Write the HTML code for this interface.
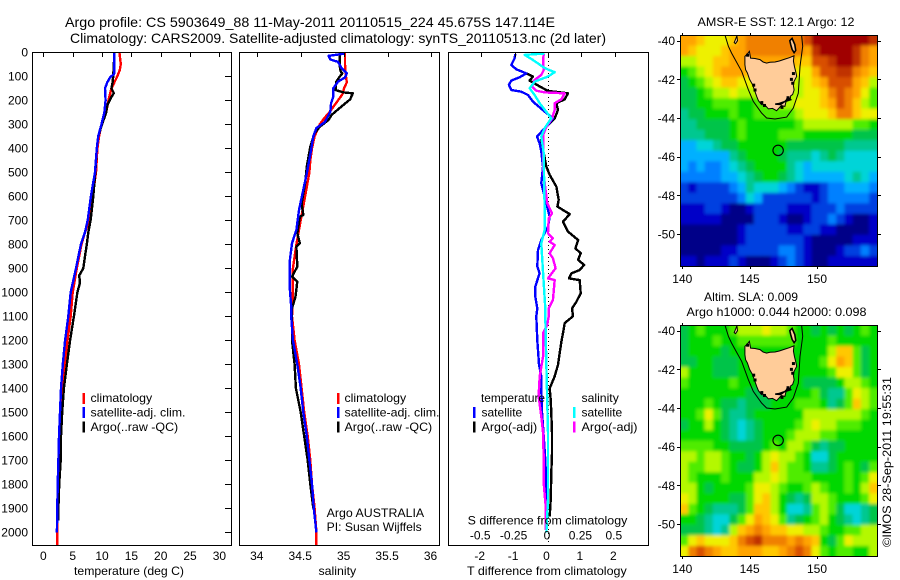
<!DOCTYPE html>
<html>
<head>
<meta charset="utf-8">
<title>Argo profile</title>
<style>
html,body{margin:0;padding:0;background:#fff;}
svg{display:block;}
text{font-family:"Liberation Sans",sans-serif;font-size:12px;fill:#000;}
.title{font-size:14px;}
</style>
</head>
<body>
<svg id="chart" xmlns="http://www.w3.org/2000/svg" width="900" height="580" viewBox="0 0 900 580">
  <defs>
    <filter id="soft" x="-10%" y="-10%" width="120%" height="120%"><feGaussianBlur stdDeviation="1.7"/></filter>
    <clipPath id="clip-p1"><rect x="33" y="53" width="198" height="492"/></clipPath>
    <clipPath id="clip-p2"><rect x="240" y="53" width="199" height="492"/></clipPath>
    <clipPath id="clip-p3"><rect x="449" y="53" width="199" height="492"/></clipPath>
    <clipPath id="clip-m1"><rect x="681" y="36" width="196" height="230"/></clipPath>
    <clipPath id="clip-m2"><rect x="681" y="326" width="196" height="230"/></clipPath>
  </defs>
  <text class="title" x="65" y="27" textLength="490" lengthAdjust="spacingAndGlyphs">Argo profile: CS 5903649_88 11-May-2011 20110515_224 45.675S 147.114E</text>
  <text class="title" x="70" y="43" textLength="536" lengthAdjust="spacingAndGlyphs">Climatology: CARS2009. Satellite-adjusted climatology: synTS_20110513.nc (2d later)</text>

  <g id="p1"></g>
  <g id="p2"></g>
  <g id="p3"></g>
  <g id="m1"></g>
  <g id="m2"></g>

  <text x="74" y="575" textLength="110" lengthAdjust="spacingAndGlyphs">temperature (deg C)</text>
  <text x="318.5" y="575" textLength="37.7" lengthAdjust="spacingAndGlyphs">salinity</text>
  <text x="467" y="575" textLength="159.7" lengthAdjust="spacingAndGlyphs">T difference from climatology</text>
  <text x="467.7" y="524.5" textLength="159.6" lengthAdjust="spacingAndGlyphs">S difference from climatology</text>

  <g>
    <rect x="82.5" y="393" width="2.5" height="11" fill="#f00"/>
    <rect x="82.5" y="407" width="2.5" height="11" fill="#00f"/>
    <rect x="82.5" y="421.5" width="2.5" height="11" fill="#000"/>
    <text x="90.5" y="402" textLength="61.7" lengthAdjust="spacingAndGlyphs">climatology</text>
    <text x="90.5" y="416.5" textLength="95" lengthAdjust="spacingAndGlyphs">satellite-adj. clim.</text>
    <text x="90.5" y="431" textLength="87.7" lengthAdjust="spacingAndGlyphs">Argo(..raw -QC)</text>
  </g>
  <g>
    <rect x="337" y="393" width="2.5" height="11" fill="#f00"/>
    <rect x="337" y="407" width="2.5" height="11" fill="#00f"/>
    <rect x="337" y="421.5" width="2.5" height="11" fill="#000"/>
    <text x="344.5" y="402" textLength="61.7" lengthAdjust="spacingAndGlyphs">climatology</text>
    <text x="344.5" y="416.5" textLength="95" lengthAdjust="spacingAndGlyphs">satellite-adj. clim.</text>
    <text x="344.5" y="431" textLength="87.7" lengthAdjust="spacingAndGlyphs">Argo(..raw -QC)</text>
  </g>
  <text x="326.7" y="517" textLength="97.5" lengthAdjust="spacingAndGlyphs">Argo AUSTRALIA</text>
  <text x="326.7" y="531" textLength="95" lengthAdjust="spacingAndGlyphs">PI: Susan Wijffels</text>
  <g>
    <text x="481" y="402" textLength="64" lengthAdjust="spacingAndGlyphs">temperature</text>
    <text x="581.5" y="402" textLength="37.3" lengthAdjust="spacingAndGlyphs">salinity</text>
    <rect x="473" y="407" width="2.5" height="11" fill="#00f"/>
    <rect x="473" y="421.5" width="2.5" height="11" fill="#000"/>
    <rect x="573" y="407" width="2.5" height="11" fill="#0ff"/>
    <rect x="573" y="421.5" width="2.5" height="11" fill="#f0f"/>
    <text x="481.5" y="416.5" textLength="40.7" lengthAdjust="spacingAndGlyphs">satellite</text>
    <text x="481.5" y="431" textLength="55.7" lengthAdjust="spacingAndGlyphs">Argo(-adj)</text>
    <text x="581.5" y="416.5" textLength="40.7" lengthAdjust="spacingAndGlyphs">satellite</text>
    <text x="581.5" y="431" textLength="56" lengthAdjust="spacingAndGlyphs">Argo(-adj)</text>
  </g>

  <text x="697.5" y="26" textLength="157" lengthAdjust="spacingAndGlyphs">AMSR-E SST: 12.1  Argo: 12</text>
  <text x="704" y="301" textLength="94" lengthAdjust="spacingAndGlyphs">Altim. SLA: 0.009</text>
  <text x="686.5" y="316" textLength="180" lengthAdjust="spacingAndGlyphs">Argo h1000: 0.044 h2000: 0.098</text>
  <text transform="translate(891,547) rotate(-90)" textLength="170" lengthAdjust="spacingAndGlyphs">©IMOS 28-Sep-2011 19:55:31</text>
</svg>
<script>
// ---- tick labels
const depthTicks = [0,100,200,300,400,500,600,700,800,900,1000,1100,1200,1300,1400,1500,1600,1700,1800,1900,2000];
const tempTicks = [0,5,10,15,20,25,30];
const salTicks = [34,34.5,35,35.5,36];
const tDiffTicks = [-2,-1,0,1,2];
const sDiffTicks = [-0.5,-0.25,0,0.25,0.5];
const lonTicks = [140,145,150];
const latTicks = [-40,-42,-44,-46,-48,-50];

// ---- temperature profiles
const climTempDepth = [0,50,75,100,125,150,200,250,300,350,400,500,600,700,750,800,900,1000,1100,1200,1300,1400,1500,1600,1700,1800,1900,2000,2055];
const climTempValue = [12.95,13.2,13,12.6,12.1,11.6,11.1,10.7,9.9,9.5,9.2,8.97,8.4,7.8,7.1,6.5,5.7,5,4.65,4.1,3.7,3.3,3,2.7,2.65,2.55,2.45,2.37,2.37];
const satTempDepth = [0,50,90,105,125,150,200,250,300,350,400,500,600,700,750,800,900,1000,1100,1200,1300,1400,1500,1600,1700,1800,1900,2000];
const satTempValue = [12.1,12.1,12.05,11.35,10.9,10.5,10.6,10.4,9.9,9.35,9.1,8.8,8.1,7.55,7.1,6.4,5.55,4.65,4.25,3.7,3.3,3,2.83,2.66,2.55,2.44,2.37,2.3];
const argoTempDepth = [5,100,125,150,170,190,220,250,300,350,400,500,600,700,750,800,850,900,930,960,1000,1100,1200,1300,1400,1500,1600,1700,1800,1900,1950];
const argoTempValue = [12.1,11.9,11.8,11.6,12,11.5,10.9,10.7,10,9.35,9.1,8.85,8.5,8.05,7.65,7.4,7.1,6.8,6.1,6.24,5.8,5.2,4.55,4,3.5,3.2,3,2.95,2.7,2.55,2.5];

// ---- salinity profiles
const climSalDepth = [0,50,100,125,150,175,200,225,250,275,300,350,400,450,500,600,700,800,900,1000,1100,1200,1300,1400,1500,1600,1700,1800,1900,2000,2055];
const climSalValue = [35.01,35.01,35.02,35.03,35,34.98,34.93,34.88,34.83,34.77,34.72,34.66,34.63,34.61,34.6,34.55,34.5,34.45,34.41,34.41,34.4,34.43,34.48,34.51,34.54,34.58,34.61,34.63,34.66,34.68,34.68];
const satSalDepth = [5,15,30,40,66,88,105,122,150,185,212,247,290,316,350,407,504,573,657,740,796,865,990,1060,1100,1200,1300,1400,1500,1600,1700,1800,1900,1950,2000];
const satSalValue = [35.01,34.82,34.84,34.93,34.97,35.03,35.01,34.93,34.875,34.875,34.85,34.84,34.78,34.68,34.645,34.62,34.57,34.53,34.48,34.45,34.4,34.375,34.375,34.39,34.39,34.41,34.46,34.5,34.53,34.57,34.6,34.63,34.65,34.665,34.68];
const argoSalDepth = [5,60,80,88,101,122,157,167,171,196,226,261,282,310,337,393,476,546,629,678,685,754,796,810,893,935,955,1018,1067,1100,1200,1300,1400,1500,1600,1700,1800,1900];
const argoSalValue = [34.95,34.95,34.96,34.98,34.95,34.91,34.9,34.99,35.1,35.07,34.97,34.855,34.82,34.72,34.66,34.61,34.57,34.55,34.51,34.53,34.49,34.46,34.49,34.45,34.46,34.4,34.46,34.44,34.4,34.4,34.4,34.43,34.445,34.5,34.54,34.58,34.61,34.645];

// ---- temperature differences (deg C)
const satDiffTDepth = [7,25,53,71,88,104,118,136,157,164,178,206,247,275,303,324,351,379,414,476,546,601,685,726,782,824,893,921,976,1018,1067,1100,1200,1300,1350,1400,1500,1600,1700,1800,1900,1990];
const satDiffTValue = [-0.98,-1,-1.1,-0.95,-0.65,-0.85,-1.1,-1.17,-1.1,-0.8,-0.6,-0.45,-0.1,0.15,0,-0.15,-0.33,-0.25,-0.2,-0.15,-0.2,-0.1,0.05,0,-0.2,-0.3,-0.32,-0.25,-0.38,-0.38,-0.32,-0.35,-0.32,-0.27,-0.2,-0.2,-0.18,-0.13,-0.08,-0.05,-0.05,-0.05];
const argoDiffTDepth = [88,101,118,142,161,171,196,212,240,275,310,331,366,476,511,560,615,643,674,706,747,782,817,837,865,886,907,921,942,949,1004,1039,1067,1100,1128,1170,1205,1253,1302,1350,1400,1448,1503,1587,1670,1753,1865,1934];
const argoDiffTValue = [-0.65,-0.45,-0.55,-0.25,0,0.6,0.5,0.25,0.3,0.2,-0.05,-0.15,-0.2,-0.05,0.05,0.25,0.32,0.28,0.65,0.45,0.6,0.9,0.82,0.98,0.9,1.08,0.95,0.7,0.63,0.95,0.98,0.85,0.72,0.75,0.5,0.45,0.4,0.35,0.3,0.2,0.05,0.08,0.1,0.12,0.12,0.1,0.08,0.05];

// ---- salinity differences
const satDiffSDepth = [5,11,32,66,83,101,122,150,178,212,275,316,351,420,504,671,740,796,921,1067,1100,1309,1587,1865,2000];
const satDiffSValue = [-0.025,-0.175,-0.112,-0.025,0.05,0,-0.1,-0.137,-0.1,-0.062,0.025,-0.025,-0.05,-0.032,-0.03,-0.025,-0.025,-0.05,-0.037,-0.02,-0.02,-0.012,0,0,-0.012];
const argoDiffSDepth = [7,32,74,94,115,143,160,167,171,196,212,240,275,310,344,476,546,629,671,692,754,775,789,803,837,858,900,942,949,1032,1067,1100,1135,1170,1267,1350,1433,1517,1587,1698,1795,1892,1990];
const argoDiffSValue = [-0.032,-0.037,-0.032,-0.05,-0.1,-0.12,-0.087,-0.025,0.125,0.1,0.05,0.05,0.03,-0.012,-0.037,-0.037,-0.025,-0.005,0.03,0.005,0,0.037,0.012,0.05,0.012,0.037,0.057,0,0.05,0.037,0.005,0.005,-0.005,-0.037,-0.037,-0.062,-0.07,-0.05,-0.037,-0.032,-0.032,-0.017,-0.017];

// ---- map grids (colour-class index per cell, rows north to south)
const sstGrid = [
[13,13,12,11,11,11,12,13,14,14,14,14,14,14,14,15,17,17,17,17,17,17,17,16],
[13,12,11,11,11,12,13,13,14,14,14,14,14,14,14,13,16,17,17,17,17,16,14,13],
[10,10,11,11,12,12,13,13,13,13,13,13,13,13,12,12,15,15,16,17,17,16,14,13],
[8,9,10,11,12,13,13,13,12,12,12,12,12,12,11,11,13,15,15,16,16,14,13,12],
[7,8,9,10,11,12,12,11,11,11,11,11,11,11,10,11,12,13,15,15,15,13,12,10],
[7,7,8,9,10,10,11,10,10,10,10,10,10,10,10,11,11,12,14,15,14,13,11,9],
[7,7,8,8,9,9,9,8,8,9,9,9,10,10,11,11,11,12,13,15,14,12,10,9],
[6,7,7,8,8,8,9,8,8,9,9,9,9,9,10,11,11,11,12,14,14,12,11,11],
[6,6,7,7,7,7,8,9,8,8,8,8,8,8,9,10,10,10,10,10,10,9,9,8],
[6,6,6,7,7,7,8,9,8,8,8,8,9,9,9,8,8,8,8,8,8,7,7,7],
[4,4,5,5,6,7,7,8,8,8,8,8,8,7,7,7,7,7,7,7,6,6,6,6],
[4,4,4,4,4,4,6,7,8,8,8,8,7,6,6,6,5,6,7,6,5,5,5,5],
[4,3,4,3,3,4,5,6,7,8,8,8,8,6,5,4,5,5,5,5,5,5,5,5],
[3,3,3,3,3,4,4,5,6,7,8,8,7,6,5,4,4,4,4,4,5,6,5,4],
[2,1,2,2,2,2,3,4,6,5,5,5,4,3,2,1,1,2,3,3,4,4,4,3],
[2,2,2,2,2,2,2,3,5,4,2,2,2,2,2,2,1,2,3,3,3,3,3,2],
[1,1,1,2,2,1,0,0,1,2,2,2,2,1,1,1,2,2,2,3,2,2,2,2],
[1,1,1,1,1,0,0,0,0,2,2,2,1,0,0,1,2,2,3,2,1,0,0,1],
[0,0,0,0,0,0,0,1,2,2,2,2,2,1,1,2,2,1,1,0,0,0,0,1],
[0,0,0,0,0,0,0,1,2,2,2,2,2,2,2,1,0,0,0,0,0,1,1,1],
[0,0,0,0,0,1,1,2,2,2,2,2,3,3,2,1,0,0,0,1,2,2,3,2],
[1,1,0,1,1,1,2,1,0,0,0,1,2,3,2,1,0,0,1,1,1,1,1,1]
];
const slaGrid = [
[7,8,9,8,8,8,9,10,10,10,11,10,10,9,8,8,7,8,7,8,7,8,9,8],
[7,8,8,8,9,8,8,9,9,9,9,9,9,9,8,8,8,8,9,8,8,8,8,8],
[7,8,8,8,8,7,8,8,8,8,8,8,8,8,8,8,8,8,10,12,12,9,7,8],
[7,7,8,8,7,7,7,8,8,8,8,8,8,8,8,8,8,9,11,13,12,9,7,8],
[10,8,8,8,7,7,7,8,8,8,8,8,8,8,8,8,8,8,9,11,11,9,7,8],
[9,8,8,8,8,8,9,8,8,8,8,8,8,8,8,7,7,7,7,8,10,10,9,8],
[8,8,8,8,8,8,8,8,7,7,7,7,8,8,8,8,9,7,6,6,9,11,10,9],
[8,8,8,9,8,7,7,6,7,7,7,8,8,8,9,9,9,8,6,7,9,12,10,9],
[8,8,9,11,9,7,6,6,7,8,8,8,8,8,8,10,10,10,10,10,10,10,9,8],
[7,8,8,10,8,7,6,5,6,7,8,8,8,8,9,10,11,10,10,9,9,9,8,8],
[8,8,8,8,8,7,6,5,6,7,8,8,8,9,10,10,10,9,9,8,8,8,8,8],
[9,9,9,9,8,8,7,7,7,7,8,9,8,10,10,9,7,6,7,7,8,8,8,8],
[10,10,9,10,10,9,8,8,7,8,10,11,10,10,9,8,5,5,7,8,8,8,8,8],
[10,9,9,10,10,9,8,7,7,8,10,12,10,9,9,8,6,6,7,8,9,8,7,9],
[10,9,8,8,8,9,8,8,8,10,10,11,10,9,9,9,8,8,8,8,9,8,9,11],
[10,10,8,7,8,8,8,8,9,11,11,10,9,8,8,9,10,9,8,8,9,8,10,12],
[11,10,8,8,8,8,7,7,9,11,12,10,8,7,6,7,10,10,9,8,8,8,9,11],
[12,9,8,7,6,6,6,7,9,12,12,10,8,5,5,6,9,10,9,7,5,5,6,7],
[8,8,7,6,5,5,7,9,11,13,12,11,9,6,7,8,9,10,8,7,6,5,6,7],
[7,7,7,6,5,6,10,12,13,14,13,12,12,11,11,10,10,9,8,8,9,9,10,10],
[9,11,12,11,11,11,12,14,15,16,14,14,14,13,14,13,12,8,7,9,11,10,10,10],
[11,14,15,14,13,12,12,13,13,13,12,12,13,14,15,14,11,9,8,9,9,8,8,10]
];

// ---- geography (lon, lat pairs) and Argo float position
const tasmaniaLon = [144.65,144.82,144.98,145.07,145.4,145.77,146.0,146.26,146.5,146.88,147.2,147.62,147.95,148.29,148.25,148.32,148.42,148.49,148.3,148.24,148.3,148.19,148.05,148.0,147.75,147.62,147.35,147.0,146.7,146.39,146.1,145.89,145.65,145.52,145.38,145.22,145.0,144.83,144.7,144.65];
const tasmaniaLat = [-40.81,-40.7,-40.55,-40.9,-40.92,-40.98,-41.1,-41.16,-41.12,-41.1,-41.05,-40.95,-40.88,-40.78,-41.05,-41.33,-41.6,-41.84,-42.1,-42.28,-42.55,-42.79,-42.85,-43.05,-43.0,-43.4,-43.35,-43.62,-43.5,-43.53,-43.3,-43.31,-43.1,-42.88,-42.6,-42.28,-42.0,-41.67,-41.5,-41.24];
const flindersLon = [147.98,148.15,148.35,148.42,148.3,148.15,148.05];
const flindersLat = [-40,-39.88,-40.2,-40.5,-40.62,-40.45,-40.2];
const kingLon = [143.85,144.05,144.1,143.95];
const kingLat = [-40.1,-39.75,-40.0,-40.15];
const barrierLon = [146.9,147.3,147.6,147.9,148.05,147.6,147.2];
const barrierLat = [-43.28,-43.3,-43.15,-42.95,-43.05,-43.15,-43.25];
const coastSpeckLon = [144.85,145.3,145.4,148.1,148.2,148.25,147.85,147.4,146.1,145.9];
const coastSpeckLat = [-40.75,-42.3,-42.55,-42.0,-42.2,-41.7,-42.95,-43.45,-43.35,-43.2];
const isobathLon = [143.17,143.42,143.66,144.41,144.9,145.27,145.89,146.26,146.88,147.75,148.24,148.61,148.69,148.74,148.94,148.86];
const isobathLat = [-39.71,-40.29,-40.64,-41.59,-42.53,-43.14,-43.74,-44,-44.05,-43.95,-43.48,-42.71,-41.84,-41.33,-40.29,-39.71];
const floatLon = 147.114;
const floatLat = -45.675;

// ---- axis functions
function depthY(d){ return 52.3 + 0.24 * d; }
function tempX(t){ return 43.4 + 5.866 * t; }
function salX(s){ return 257.3 + 86.85 * (s - 34); }
function tDiffX(t){ return 548 + 33.4 * t; }
function sDiffX(s){ return 548 + 133.6 * s; }
function lonX(lon){ return 682.3 + 13.47 * (lon - 140); }
function latY(lat, north){ return north + 19.33 * (-40 - lat); }

const NS = 'http://www.w3.org/2000/svg';
function make(parent, tag, name, attrs, txt){
  const el = document.createElementNS(NS, tag);
  
  
  for (const k in attrs) el.setAttribute(k, attrs[k]);
  if (txt !== undefined) el.textContent = txt;
  parent.appendChild(el);
  return el;
}
function pathOf(xs, ys){
  return xs.map((x, i) => (i ? 'L' : 'M') + x.toFixed(1) + ' ' + ys[i].toFixed(1)).join('');
}
function profile(parent, name, depths, values, xFn, color, clip){
  make(parent, 'path', name, {
    d: pathOf(values.map(xFn), depths.map(depthY)),
    fill: 'none', stroke: color, 'stroke-width': 2.4,
    'stroke-linejoin': 'round', 'shape-rendering': 'crispEdges', 'clip-path': 'url(#' + clip + ')'
  });
}
function frame(parent, name, x, y, w, h){
  make(parent, 'rect', name, {x: x, y: y, width: w, height: h, fill: 'none', stroke: '#000', 'stroke-width': 1, 'shape-rendering': 'crispEdges'});
}
function tick(parent, name, x1, y1, x2, y2){
  make(parent, 'line', name, {x1: x1, y1: y1, x2: x2, y2: y2, stroke: '#000', 'stroke-width': 1, 'shape-rendering': 'crispEdges'});
}

// ---- panel 1: temperature
const p1 = document.getElementById('p1');
profile(p1, 'climatology-temperature-line', climTempDepth, climTempValue, tempX, '#f00', 'clip-p1');
profile(p1, 'argo-temperature-line', argoTempDepth, argoTempValue, tempX, '#000', 'clip-p1');
profile(p1, 'satellite-temperature-line', satTempDepth, satTempValue, tempX, '#00f', 'clip-p1');
frame(p1, 'temperature-plot-frame', 32.5, 52.5, 199, 493);
tempTicks.forEach(t => {
  const x = Math.round(tempX(t)) + 0.5;
  tick(p1, 'temperature-top-tick', x, 52, x, 57);
  make(p1, 'text', 'temperature-tick-label', {x: tempX(t), y: 560, 'text-anchor': 'middle'}, String(t));
});
depthTicks.forEach(d => {
  const y = Math.round(depthY(d)) + 0.5;
  tick(p1, 'depth-tick', 225, y, 231, y);
  make(p1, 'text', 'depth-tick-label', {x: 28, y: depthY(d) + 4.2, 'text-anchor': 'end'}, String(d));
});

// ---- panel 2: salinity
const p2 = document.getElementById('p2');
profile(p2, 'climatology-salinity-line', climSalDepth, climSalValue, salX, '#f00', 'clip-p2');
profile(p2, 'argo-salinity-line', argoSalDepth, argoSalValue, salX, '#000', 'clip-p2');
profile(p2, 'satellite-salinity-line', satSalDepth, satSalValue, salX, '#00f', 'clip-p2');
frame(p2, 'salinity-plot-frame', 239.5, 52.5, 200, 493);
salTicks.forEach(s => {
  const x = Math.round(salX(s)) + 0.5;
  tick(p2, 'salinity-top-tick', x, 52, x, 57);
  make(p2, 'text', 'salinity-tick-label', {x: salX(s) - 0.5, y: 560, 'text-anchor': 'middle'}, String(s));
});

// ---- panel 3: differences
const p3 = document.getElementById('p3');
make(p3, 'line', 'zero-difference-line', {x1: 548.5, y1: 53, x2: 548.5, y2: 545, stroke: '#000', 'stroke-width': 1, 'stroke-dasharray': '1 3', 'shape-rendering': 'crispEdges'});
profile(p3, 'argo-temperature-difference-line', argoDiffTDepth, argoDiffTValue, tDiffX, '#000', 'clip-p3');
profile(p3, 'satellite-temperature-difference-line', satDiffTDepth, satDiffTValue, tDiffX, '#00f', 'clip-p3');
profile(p3, 'argo-salinity-difference-line', argoDiffSDepth, argoDiffSValue, sDiffX, '#f0f', 'clip-p3');
profile(p3, 'satellite-salinity-difference-line', satDiffSDepth, satDiffSValue, sDiffX, '#0ff', 'clip-p3');
frame(p3, 'difference-plot-frame', 448.5, 52.5, 200, 493);
tDiffTicks.forEach(t => {
  const x = Math.round(tDiffX(t)) + 0.5;
  tick(p3, 'difference-top-tick', x, 52, x, 57);
  make(p3, 'text', 't-difference-tick-label', {x: tDiffX(t) - 1.5, y: 560, 'text-anchor': 'middle'}, String(t));
});
sDiffTicks.forEach(s => {
  make(p3, 'text', 's-difference-tick-label', {x: sDiffX(s) - 1, y: 539.5, 'text-anchor': 'middle'}, String(s));
});

// ---- map colours
const classColors = ['#000088','#0000c8','#0040e0','#0080ff','#00b0ff','#00d4d8','#00c890','#00c448','#00d800','#50ec00','#b4f800','#eef000','#ffc800','#ffa400','#f08000','#d85000','#c03000','#a00000'];

function drawMap(id, grid, top, clipId){
  const g = document.getElementById(id);
  const north = top + 5.7;
  const cw = 197.3 / grid[0].length, ch = 231.4 / grid.length;
  const clipG = make(g, 'g', 'map-clip-group', {'clip-path': 'url(#' + clipId + ')'});
  const field = make(clipG, 'g', 'map-colour-field', {filter: 'url(#soft)'});
  grid.forEach((row, r) => row.forEach((v, c) => {
    const pad = 14;
    const x = 680 + c * cw, y = top + r * ch;
    const x0 = c === 0 ? x - pad : x, y0 = r === 0 ? y - pad : y;
    const x1 = c === row.length - 1 ? x + cw + pad : x + cw + 0.5;
    const y1 = r === grid.length - 1 ? y + ch + pad : y + ch + 0.5;
    make(field, 'rect', 'map-cell', {x: x0, y: y0, width: x1 - x0, height: y1 - y0, fill: classColors[v]});
  }));
  const xs = a => a.map(lonX), ys = a => a.map(l => latY(l, north));
  make(clipG, 'path', 'tasmania-land', {d: pathOf(xs(tasmaniaLon), ys(tasmaniaLat)) + 'Z', fill: '#ffcc99', stroke: '#000', 'stroke-width': 1});
  make(clipG, 'path', 'flinders-island', {d: pathOf(xs(flindersLon), ys(flindersLat)) + 'Z', fill: '#ffcc99', stroke: '#000', 'stroke-width': 1.6});
  make(clipG, 'path', 'king-island', {d: pathOf(xs(kingLon), ys(kingLat)) + 'Z', fill: '#ffcc99', stroke: '#000', 'stroke-width': 1});
  make(clipG, 'path', 'tasman-peninsula', {d: pathOf(xs(barrierLon), ys(barrierLat)) + 'Z', fill: '#000', stroke: '#000', 'stroke-width': 1.5});
  coastSpeckLon.forEach((lon, i) => {
    make(clipG, 'rect', 'coast-detail', {x: lonX(lon) - 1.5, y: latY(coastSpeckLat[i], north) - 1.5, width: 3, height: 3, fill: '#000'});
  });
  make(clipG, 'path', 'shelf-isobath', {d: pathOf(xs(isobathLon), ys(isobathLat)), fill: 'none', stroke: '#000', 'stroke-width': 1});
  make(clipG, 'circle', 'argo-float-position', {cx: lonX(floatLon), cy: latY(floatLat, north), r: 5.2, fill: 'none', stroke: '#000', 'stroke-width': 1.1});
  frame(g, 'map-frame', 680.5, top + 0.5, 197, 231);
  lonTicks.forEach(l => {
    const x = Math.round(lonX(l)) + 0.5;
    tick(g, 'longitude-tick', x, top - 2, x, top);
    tick(g, 'longitude-tick', x, top + 231, x, top + 234);
    make(g, 'text', 'longitude-tick-label', {x: lonX(l), y: top + 248, 'text-anchor': 'middle'}, String(l));
  });
  latTicks.forEach(l => {
    const y = Math.round(latY(l, north)) + 0.5;
    tick(g, 'latitude-tick', 677, y, 680, y);
    tick(g, 'latitude-tick', 878, y, 881, y);
    make(g, 'text', 'latitude-tick-label', {x: 675, y: latY(l, north) + 4.5, 'text-anchor': 'end'}, String(l));
  });
}
drawMap('m1', sstGrid, 35, 'clip-m1');
drawMap('m2', slaGrid, 325, 'clip-m2');
</script>
</body>
</html>
